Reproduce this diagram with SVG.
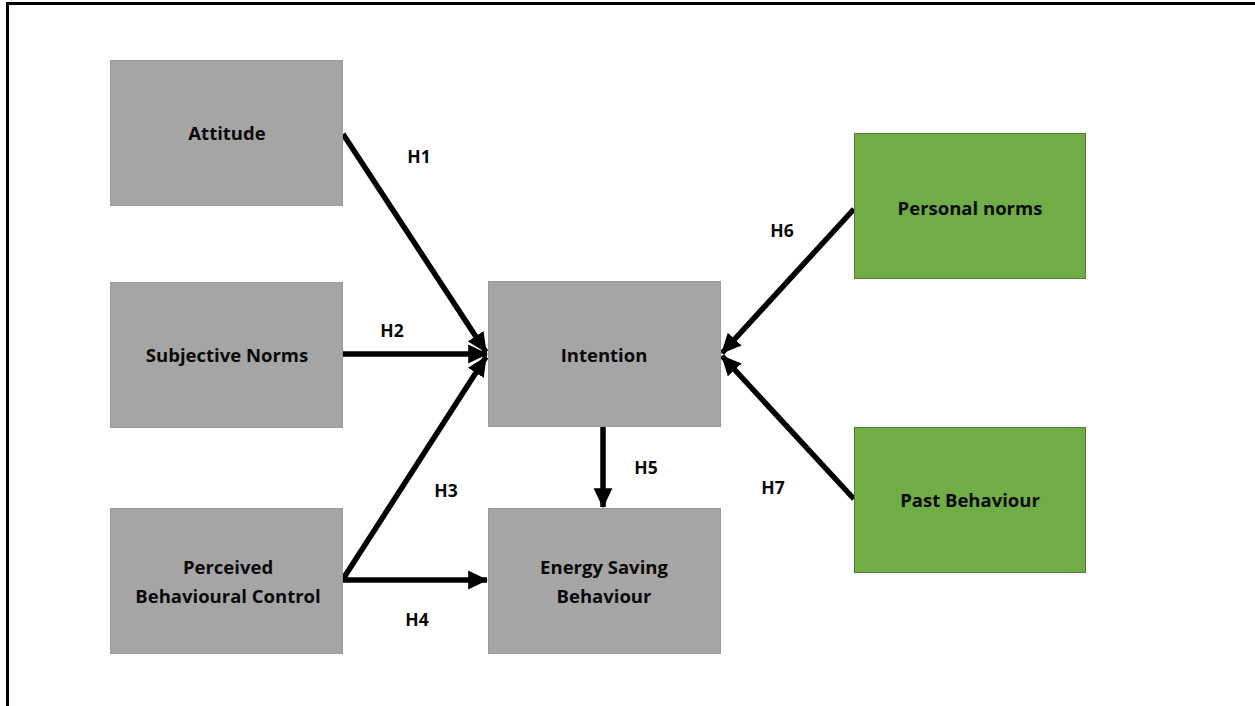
<svg xmlns="http://www.w3.org/2000/svg" width="1255" height="706" viewBox="0 0 1255 706">
<style>
.g{fill:#a5a5a5;stroke:#9a9a9a;stroke-width:1}
.gr{fill:#70ad47;stroke:#507e32;stroke-width:1}
.t{font-family:"Open Sans","Liberation Sans",sans-serif;font-weight:bold;font-size:18.5px;fill:#0a0a0a;text-anchor:middle}
.h{font-family:"Open Sans","Liberation Sans",sans-serif;font-weight:bold;font-size:17.5px;fill:#0a0a0a;text-anchor:middle}
.c{stroke:#000;stroke-width:5.5;fill:none;marker-end:url(#ah)}
</style>
<defs>
<marker id="ah" markerUnits="userSpaceOnUse" markerWidth="20" markerHeight="20" refX="16" refY="8" orient="auto" viewBox="0 0 17 16">
<path d="M0,0 L17,8 L0,16 z" fill="#000"/>
</marker>
</defs>
<rect width="1255" height="706" fill="#fff"/>
<g id="frame" stroke="#000" stroke-width="3" fill="none">
<line x1="7" y1="3.5" x2="1255" y2="3.5"/>
<line x1="7.5" y1="2" x2="7.5" y2="706"/>
</g>
<g id="connectors">
<line class="c" x1="343" y1="134" x2="486" y2="352"/>
<line class="c" x1="343" y1="354" x2="487" y2="354"/>
<line class="c" x1="343" y1="579" x2="486" y2="357"/>
<line class="c" x1="343" y1="580" x2="487" y2="580"/>
<line class="c" x1="603" y1="427" x2="603" y2="507"/>
<line class="c" x1="854" y1="209" x2="722" y2="353"/>
<line class="c" x1="854" y1="499" x2="722" y2="356"/>
<text class="h" x="419" y="163">H1</text>
<text class="h" x="392" y="337">H2</text>
<text class="h" x="446" y="497">H3</text>
<text class="h" x="417" y="626">H4</text>
<text class="h" x="646" y="474">H5</text>
<text class="h" x="782" y="237">H6</text>
<text class="h" x="773" y="494">H7</text>
</g>
<g id="attitude"><rect class="g" x="110.5" y="60.5" width="232" height="145"/><text class="t" x="227" y="140">Attitude</text></g>
<g id="subjective-norms"><rect class="g" x="110.5" y="282.5" width="232" height="145"/><text class="t" x="227" y="362">Subjective Norms</text></g>
<g id="pbc"><rect class="g" x="110.5" y="508.5" width="232" height="145"/><text class="t" x="228" y="574">Perceived</text><text class="t" x="228" y="603">Behavioural Control</text></g>
<g id="intention"><rect class="g" x="488.5" y="281.5" width="232" height="145"/><text class="t" x="604" y="362">Intention</text></g>
<g id="energy-saving"><rect class="g" x="488.5" y="508.5" width="232" height="145"/><text class="t" x="604" y="574">Energy Saving</text><text class="t" x="604" y="603">Behaviour</text></g>
<g id="personal-norms"><rect class="gr" x="854.5" y="133.5" width="231" height="145"/><text class="t" x="970" y="215">Personal norms</text></g>
<g id="past-behaviour"><rect class="gr" x="854.5" y="427.5" width="231" height="145"/><text class="t" x="970" y="507">Past Behaviour</text></g>
</svg>
